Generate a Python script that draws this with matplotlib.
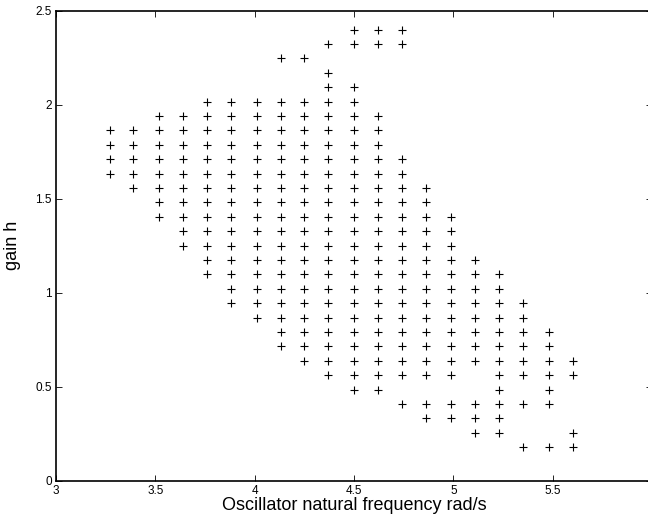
import numpy as np
import matplotlib
matplotlib.use('Agg')
import matplotlib.pyplot as plt

# Oscillator natural frequency grid (rad/s), one entry per column of points
freqs = [3.27, 3.39, 3.52, 3.64, 3.76, 3.88, 4.01, 4.13, 4.25, 4.37,
         4.50, 4.62, 4.74, 4.86, 4.99, 5.11, 5.23, 5.35, 5.48, 5.60]

# Gain levels (h), one entry per row of points
gains = [0.178, 0.255, 0.331, 0.408, 0.484, 0.561, 0.638, 0.714, 0.791, 0.867,
         0.944, 1.021, 1.097, 1.174, 1.250, 1.327, 1.404, 1.480, 1.557, 1.633,
         1.710, 1.787, 1.863, 1.940, 2.016, 2.093, 2.170, 2.246, 2.323, 2.399]

# Which gain levels (index into gains) are marked for each frequency
marked = [
    list(range(19, 23)),
    list(range(18, 23)),
    list(range(16, 24)),
    list(range(14, 24)),
    list(range(12, 25)),
    list(range(10, 25)),
    list(range(9, 25)),
    list(range(7, 25)) + [27],
    list(range(6, 25)) + [27],
    list(range(5, 27)) + [28],
    list(range(4, 26)) + [28, 29],
    list(range(4, 24)) + [28, 29],
    [3] + list(range(5, 21)) + [28, 29],
    [2, 3] + list(range(5, 19)),
    [2, 3] + list(range(5, 17)),
    [1, 2, 3] + list(range(6, 14)),
    list(range(1, 13)),
    [0, 3] + list(range(5, 11)),
    [0] + list(range(3, 9)),
    [0, 1, 5, 6],
]

xtick_vals = [3, 3.5, 4, 4.5, 5, 5.5, 6]
xtick_labels = ['3', '3.5', '4', '4.5', '5', '5.5', '6']
ytick_vals = [0, 0.5, 1, 1.5, 2, 2.5]
ytick_labels = ['0', '0.5', '1', '1.5', '2', '2.5']

plt.rcParams['font.family'] = ['Liberation Sans', 'DejaVu Sans']

# build point lists
xs = []
ys = []
for f, idx in zip(freqs, marked):
    for k in idx:
        xs.append(f)
        ys.append(gains[k])

fig = plt.figure(figsize=(6.48, 5.25), dpi=100)
ax = fig.add_axes([0.0864, 0.0844, 0.92, 0.8952])
ax.plot(xs, ys, 'k+', markersize=6, markeredgewidth=0.8)

ax.set_xlim(3, 6)
ax.set_ylim(0, 2.5)
ax.set_xticks(xtick_vals)
ax.set_xticklabels(xtick_labels)
ax.set_yticks(ytick_vals)
ax.set_yticklabels(ytick_labels)
ax.tick_params(direction='in', top=True, right=True, length=4, width=0.6,
               labelsize=8.5, pad=3)
for s in ax.spines.values():
    s.set_linewidth(1.2)

ax.set_xlabel('Oscillator natural frequency rad/s', fontsize=13, labelpad=0)
ax.set_ylabel('gain h', fontsize=13, labelpad=10)

fig.savefig('out.png', dpi=100)
